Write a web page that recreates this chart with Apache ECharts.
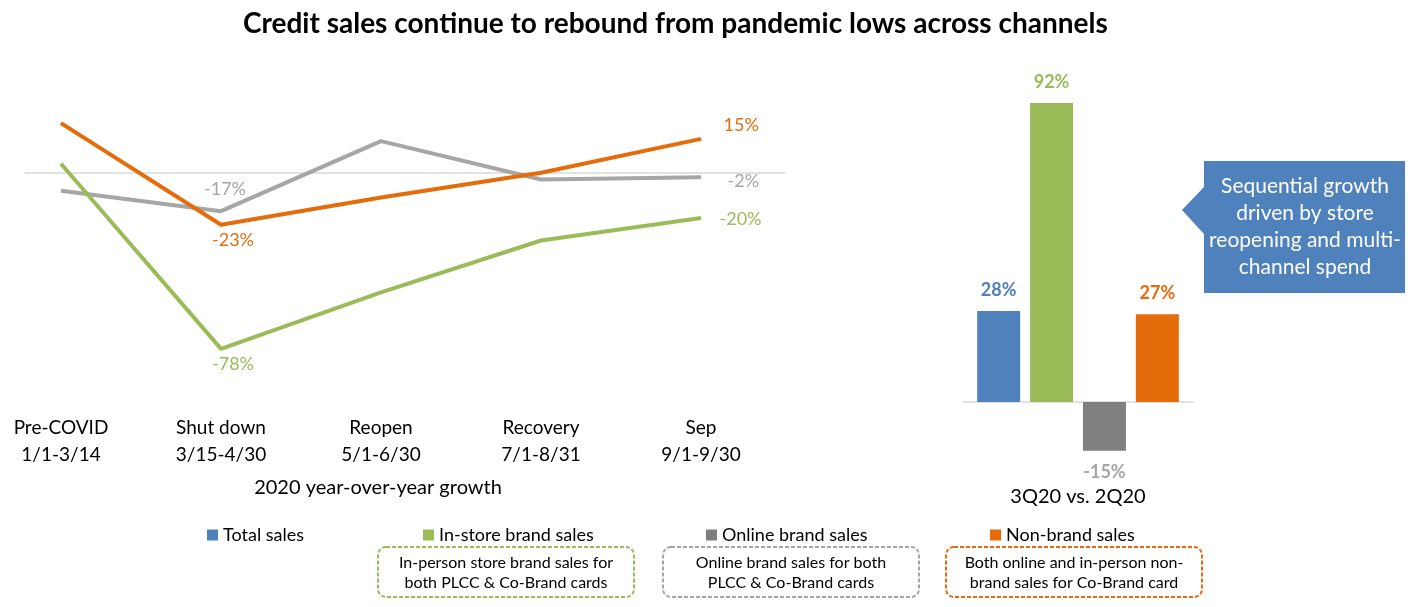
<!DOCTYPE html>
<html>
<head>
<meta charset="utf-8">
<script src="https://cdn.jsdelivr.net/npm/echarts@6/dist/echarts.min.js"></script>
<style>
  html, body { margin: 0; padding: 0; background: #fff; }
  #chart { width: 1413px; height: 607px; }
</style>
</head>
<body>
<div id="chart"></div>
<script>
// line chart: 2020 year-over-year growth (%)
var lineCats = ['Pre-COVID\n1/1-3/14', 'Shut down\n3/15-4/30', 'Reopen\n5/1-6/30', 'Recovery\n7/1-8/31', 'Sep\n9/1-9/30'];
var inStore = [4, -78, -53, -30, -20];
var online = [-8, -17, 14, -3, -2];
var nonBrand = [22, -23, -11, 0, 15];

// bar chart: 3Q20 vs. 2Q20 (%)
var barCat = ['3Q20 vs. 2Q20'];
var barNames = ['Total sales', 'In-store brand sales', 'Online brand sales', 'Non-brand sales'];
var barValues = [28, 92, -15, 27];

var FONT = 'Lato';
var BLUE = '#4f81bd', GREEN = '#9bbb59', GRAY = '#a6a6a6', DGRAY = '#7f7f7f', ORANGE = '#e46c0a';
var barColors = [BLUE, GREEN, DGRAY, ORANGE];
var barLabelColors = [BLUE, GREEN, GRAY, ORANGE];

// which points get a value label, and where
function lineData(values, color, labels) {
  return values.map(function (v, i) {
    var item = { value: [i, v] };
    if (labels[i]) {
      item.label = Object.assign({
        show: true,
        color: color,
        fontSize: 18,
        fontFamily: FONT,
        formatter: function (p) { return p.value[1] + '%'; }
      }, labels[i]);
    }
    return item;
  });
}

var mycharts = echarts.init(document.getElementById('chart'));

var series = [];
barNames.forEach(function (name, i) {
  series.push({
    name: name,
    type: 'bar',
    xAxisIndex: 1,
    yAxisIndex: 1,
    barWidth: 43,
    barGap: '23%',
    itemStyle: { color: barColors[i] },
    label: {
      show: true,
      position: barValues[i] < 0 ? 'bottom' : 'top',
      distance: 12,
      color: barLabelColors[i],
      fontSize: 18,
      fontWeight: 'bold',
      fontFamily: FONT,
      formatter: '{c}%'
    },
    data: [barValues[i]]
  });
});

var lineDefs = [
  { name: 'Online brand sales', values: online, color: GRAY, labels: {
      1: { position: 'top', distance: 12, offset: [4, 0] },
      4: { position: 'right', distance: 26, offset: [0, 4] } } },
  { name: 'Non-brand sales', values: nonBrand, color: ORANGE, labels: {
      1: { position: 'bottom', distance: 6, offset: [12, 0] },
      4: { position: 'right', distance: 22, offset: [0, -14] } } },
  { name: 'In-store brand sales', values: inStore, color: GREEN, labels: {
      1: { position: 'bottom', distance: 6, offset: [12, 0] },
      4: { position: 'right', distance: 18, offset: [0, 1] } } }
];
lineDefs.forEach(function (d) {
  series.push({
    name: d.name,
    type: 'line',
    xAxisIndex: 0,
    yAxisIndex: 0,
    symbol: 'circle',
    symbolSize: 1,
    itemStyle: { color: d.color },
    lineStyle: { color: d.color, width: 4 },
    label: { show: false },
    emphasis: { disabled: true },
    data: lineData(d.values, d.color, d.labels)
  });
});

function legendAt(name, left) {
  return {
    data: [name],
    left: left,
    top: 526,
    padding: 0,
    icon: 'rect',
    itemWidth: 11,
    itemHeight: 11,
    itemGap: 0,
    textStyle: { fontSize: 18, color: '#000', fontFamily: FONT }
  };
}

function noteBox(x, color, text) {
  return [
    {
      type: 'rect',
      shape: { x: x, y: 547, width: 256, height: 50, r: 8 },
      style: { fill: 'none', stroke: color, lineWidth: 2, lineDash: [4, 2] }
    },
    {
      type: 'text',
      style: {
        x: x + 128, y: 573, text: text, align: 'center', verticalAlign: 'middle',
        fontSize: 16, lineHeight: 20, fill: '#000', fontFamily: FONT
      }
    }
  ];
}

var option = {
  animation: false,
  textStyle: { fontFamily: FONT },
  title: {
    text: 'Credit sales continue to rebound from pandemic lows across channels',
    left: 238,
    top: 5,
    textStyle: { fontSize: 28, fontWeight: 'bold', color: '#000', fontFamily: FONT }
  },
  legend: [
    legendAt(barNames[0], 207),
    legendAt(barNames[1], 423),
    legendAt(barNames[2], 706),
    legendAt(barNames[3], 990)
  ],
  grid: [
    { left: 25, width: 760, top: 105, height: 271, outerBoundsMode: 'none' },
    { left: 963, width: 230, top: 77, height: 390, outerBoundsMode: 'none' }
  ],
  xAxis: [
    {
      type: 'value',
      gridIndex: 0,
      min: -0.225,
      max: 4.525,
      splitLine: { show: false },
      axisTick: { show: false },
      axisLine: { onZero: true, lineStyle: { color: '#d9d9d9', width: 1.5 } },
      axisLabel: {
        customValues: [0, 1, 2, 3, 4],
        formatter: function (v) { return lineCats[Math.round(v)]; },
        margin: 38,
        fontSize: 19,
        lineHeight: 27,
        color: '#000',
        fontFamily: FONT
      }
    },
    {
      type: 'category',
      gridIndex: 1,
      data: barCat,
      axisTick: { show: false },
      axisLine: { onZero: true, lineStyle: { color: '#d9d9d9', width: 1.5 } },
      axisLabel: { margin: 20, fontSize: 20, color: '#000', fontFamily: FONT }
    }
  ],
  yAxis: [
    { type: 'value', gridIndex: 0, min: -90, max: 30, show: false },
    { type: 'value', gridIndex: 1, min: -20, max: 100, show: false }
  ],
  graphic: [
    {
      type: 'text',
      style: {
        x: 378, y: 488, text: '2020 year-over-year growth', align: 'center', verticalAlign: 'middle',
        fontSize: 20, fill: '#000', fontFamily: FONT
      }
    },
    {
      type: 'polygon',
      shape: { points: [[1204, 161], [1405, 161], [1405, 293], [1204, 293], [1204, 234], [1182, 210], [1204, 187]] },
      style: { fill: BLUE }
    },
    {
      type: 'text',
      style: {
        x: 1305, y: 227, text: 'Sequential growth\ndriven by store\nreopening and multi-\nchannel spend',
        align: 'center', verticalAlign: 'middle', fontSize: 21, lineHeight: 27, fill: '#fff', fontFamily: FONT
      }
    }
  ]
    .concat(noteBox(378, GREEN, 'In-person store brand sales for\nboth PLCC & Co-Brand cards'))
    .concat(noteBox(663, GRAY, 'Online brand sales for both\nPLCC & Co-Brand cards'))
    .concat(noteBox(946, ORANGE, 'Both online and in-person non-\nbrand sales for Co-Brand card')),
  series: series
};

mycharts.setOption(option);
</script>
</body>
</html>
